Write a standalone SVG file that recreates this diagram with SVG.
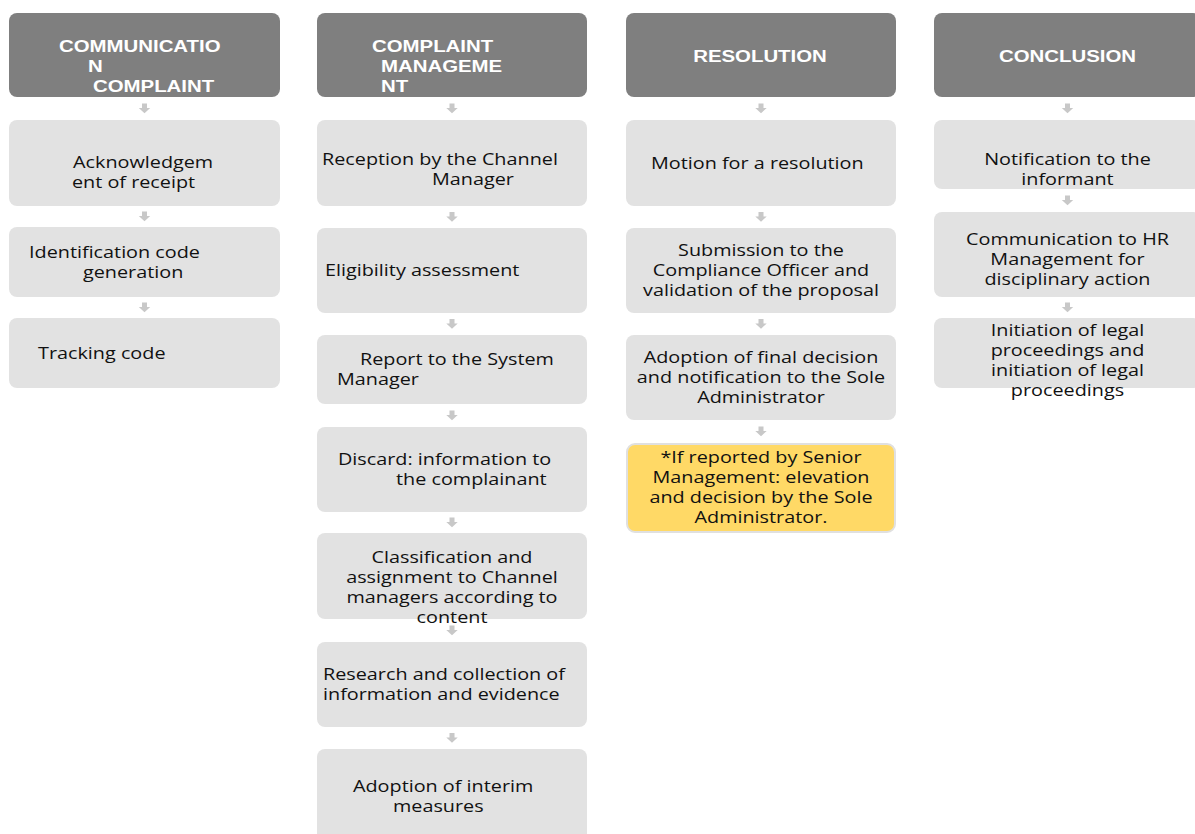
<svg xmlns="http://www.w3.org/2000/svg" xmlns:xlink="http://www.w3.org/1999/xlink" width="1195" height="834" viewBox="0 0 1195 834">
<style>
.hd{fill:#7f7f7f}
.bx{fill:#e2e2e2}
.yl{fill:#ffd966;stroke:#e0e0e0;stroke-width:2}
.ht{font-family:"Liberation Sans",Arial,sans-serif;font-weight:bold;font-size:17px;fill:#ffffff}
.bt{font-family:"Open Sans","Noto Sans",sans-serif;font-size:16.5px;fill:#111111}
.ar{fill:#c8c8c8}
</style>
<defs>
<path id="arr" class="ar" d="M-2.5,-5 h5 v4.5 h3.2 l-5.7,5.2 l-5.7,-5.2 h3.2 z"/>
</defs>
<rect width="1195" height="834" fill="#ffffff"/>
<g id="connectors">
<use xlink:href="#arr" x="144.5" y="108.5"/>
<use xlink:href="#arr" x="144.5" y="216.5"/>
<use xlink:href="#arr" x="144.5" y="307.5"/>
<use xlink:href="#arr" x="452" y="108.5"/>
<use xlink:href="#arr" x="452" y="217"/>
<use xlink:href="#arr" x="452" y="324"/>
<use xlink:href="#arr" x="452" y="415.5"/>
<use xlink:href="#arr" x="452" y="522.5"/>
<use xlink:href="#arr" x="452" y="630.5"/>
<use xlink:href="#arr" x="452" y="738"/>
<use xlink:href="#arr" x="761" y="108.5"/>
<use xlink:href="#arr" x="761" y="217"/>
<use xlink:href="#arr" x="761" y="324"/>
<use xlink:href="#arr" x="761" y="431.5"/>
<use xlink:href="#arr" x="1067.5" y="108.5"/>
<use xlink:href="#arr" x="1067.5" y="200.5"/>
<use xlink:href="#arr" x="1067.5" y="307.5"/>
</g>
<!-- Column 1 -->
<g id="h1"><rect class="hd" x="9" y="13" width="271" height="84" rx="8"/>
<text class="ht" transform="scale(1.2 1)"><tspan x="49.17" y="52">COMMUNICATIO</tspan><tspan x="73.33" y="72">N</tspan><tspan x="77.5" y="92">COMPLAINT</tspan></text></g>
<g id="c1n1"><rect class="bx" x="9" y="120" width="271" height="86" rx="8"/>
<text class="bt" transform="scale(1.2 1)"><tspan x="60.83" y="168">Acknowledgem</tspan><tspan x="60" y="188">ent of receipt</tspan></text></g>
<g id="c1n2"><rect class="bx" x="9" y="227" width="271" height="70" rx="8"/>
<text class="bt" transform="scale(1.2 1)"><tspan x="24.17" y="258">Identification code</tspan><tspan x="69.17" y="278">generation</tspan></text></g>
<g id="c1n3"><rect class="bx" x="9" y="318" width="271" height="70" rx="8"/>
<text class="bt" transform="scale(1.2 1)"><tspan x="31.67" y="359">Tracking code</tspan></text></g>
<!-- Column 2 -->
<g id="h2"><rect class="hd" x="317" y="13" width="270" height="84" rx="8"/>
<text class="ht" transform="scale(1.2 1)"><tspan x="310" y="52">COMPLAINT</tspan><tspan x="317.5" y="72">MANAGEME</tspan><tspan x="317.5" y="92">NT</tspan></text></g>
<g id="c2n1"><rect class="bx" x="317" y="120" width="270" height="86" rx="8"/>
<text class="bt" transform="scale(1.2 1)"><tspan x="268.33" y="165">Reception by the Channel</tspan><tspan x="360" y="185">Manager</tspan></text></g>
<g id="c2n2"><rect class="bx" x="317" y="228" width="270" height="85" rx="8"/>
<text class="bt" transform="scale(1.2 1)"><tspan x="270.83" y="276">Eligibility assessment</tspan></text></g>
<g id="c2n3"><rect class="bx" x="317" y="335" width="270" height="69" rx="8"/>
<text class="bt" transform="scale(1.2 1)"><tspan x="300" y="365">Report to the System</tspan><tspan x="280.83" y="385">Manager</tspan></text></g>
<g id="c2n4"><rect class="bx" x="317" y="427" width="270" height="85" rx="8"/>
<text class="bt" transform="scale(1.2 1)"><tspan x="281.67" y="465">Discard: information to</tspan><tspan x="330" y="485">the complainant</tspan></text></g>
<g id="c2n5"><rect class="bx" x="317" y="533" width="270" height="86" rx="8"/>
<text class="bt" transform="scale(1.2 1)" text-anchor="middle"><tspan x="376.67" y="563">Classification and</tspan><tspan x="376.67" y="583">assignment to Channel</tspan><tspan x="376.67" y="603">managers according to</tspan><tspan x="376.67" y="623">content</tspan></text></g>
<g id="c2n6"><rect class="bx" x="317" y="642" width="270" height="85" rx="8"/>
<text class="bt" transform="scale(1.2 1)"><tspan x="269.17" y="680">Research and collection of</tspan><tspan x="269.17" y="700">information and evidence</tspan></text></g>
<g id="c2n7"><rect class="bx" x="317" y="749" width="270" height="95" rx="8"/>
<text class="bt" transform="scale(1.2 1)"><tspan x="294.17" y="792">Adoption of interim</tspan><tspan x="327.5" y="812">measures</tspan></text></g>
<!-- Column 3 -->
<g id="h3"><rect class="hd" x="626" y="13" width="270" height="84" rx="8"/>
<text class="ht" transform="scale(1.2 1)" text-anchor="middle"><tspan x="633.33" y="62">RESOLUTION</tspan></text></g>
<g id="c3n1"><rect class="bx" x="626" y="120" width="270" height="86" rx="8"/>
<text class="bt" transform="scale(1.2 1)"><tspan x="542.5" y="169">Motion for a resolution</tspan></text></g>
<g id="c3n2"><rect class="bx" x="626" y="228" width="270" height="85" rx="8"/>
<text class="bt" transform="scale(1.2 1)" text-anchor="middle"><tspan x="634.17" y="256">Submission to the</tspan><tspan x="634.17" y="276">Compliance Officer and</tspan><tspan x="634.17" y="296">validation of the proposal</tspan></text></g>
<g id="c3n3"><rect class="bx" x="626" y="335" width="270" height="85" rx="8"/>
<text class="bt" transform="scale(1.2 1)" text-anchor="middle"><tspan x="634.17" y="363">Adoption of final decision</tspan><tspan x="634.17" y="383">and notification to the Sole</tspan><tspan x="634.17" y="403">Administrator</tspan></text></g>
<g id="c3n4"><rect class="yl" x="627" y="444" width="268" height="88" rx="8"/>
<text class="bt" transform="scale(1.2 1)" text-anchor="middle"><tspan x="634.17" y="463">*If reported by Senior</tspan><tspan x="634.17" y="483">Management: elevation</tspan><tspan x="634.17" y="503">and decision by the Sole</tspan><tspan x="634.17" y="523">Administrator.</tspan></text></g>
<!-- Column 4 -->
<g id="h4"><rect class="hd" x="934" y="13" width="267" height="84" rx="8"/>
<text class="ht" transform="scale(1.2 1)" text-anchor="middle"><tspan x="889.58" y="62">CONCLUSION</tspan></text></g>
<g id="c4n1"><rect class="bx" x="934" y="120" width="267" height="69" rx="8"/>
<text class="bt" transform="scale(1.2 1)" text-anchor="middle"><tspan x="889.58" y="165">Notification to the</tspan><tspan x="889.58" y="185">informant</tspan></text></g>
<g id="c4n2"><rect class="bx" x="934" y="212" width="267" height="85" rx="8"/>
<text class="bt" transform="scale(1.2 1)" text-anchor="middle"><tspan x="889.58" y="245">Communication to HR</tspan><tspan x="889.58" y="265">Management for</tspan><tspan x="889.58" y="285">disciplinary action</tspan></text></g>
<g id="c4n3"><rect class="bx" x="934" y="318" width="267" height="70" rx="8"/>
<text class="bt" transform="scale(1.2 1)" text-anchor="middle"><tspan x="889.58" y="336">Initiation of legal</tspan><tspan x="889.58" y="356">proceedings and</tspan><tspan x="889.58" y="376">initiation of legal</tspan><tspan x="889.58" y="396">proceedings</tspan></text></g>
</svg>
